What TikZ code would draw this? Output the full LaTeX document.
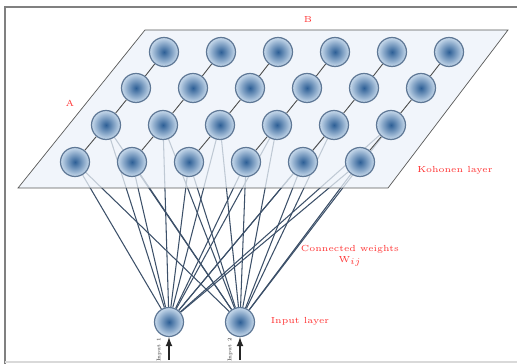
\documentclass[tikz,border=0pt]{standalone}
\usetikzlibrary{arrows.meta,backgrounds}

\definecolor{cellcore}{RGB}{45,95,150}
\definecolor{cellrim}{RGB}{200,218,236}
\definecolor{cellline}{RGB}{95,120,150}
\definecolor{wire}{RGB}{60,80,105}
\definecolor{sheet}{RGB}{236,242,249}

\begin{document}
\begin{tikzpicture}[
  x=0.02cm, y=-0.02cm,
  neuron/.style={
    circle,
    draw=cellline,
    line width=0.7pt,
    minimum size=0.58cm,
    inner sep=0pt,
    inner color=cellcore,
    outer color=cellrim
  },
  plane/.style={
    draw=gray!70!black,
    fill=sheet,
    fill opacity=0.75
  },
  gridline/.style={
    draw=gray!60!black,
    line width=0.5pt
  },
  weight/.style={
    draw=wire,
    line width=0.6pt
  },
  tag/.style={
    text=red!80,
    font=\tiny,
    align=center
  },
  >=latex
]
\useasboundingbox (0,0) rectangle (517,364);
\draw[gray, line width=1.2pt] (5,364) -- (5,7) -- (517,7);
\draw[gray!30, line width=1pt] (5,362) -- (517,362);

% Kohonen grid
\foreach \r/\xs/\ys in {1/164/52, 2/136/88, 3/106/125, 4/75/162}
  \foreach \c in {1,...,6}
    \node[neuron] (n-\r-\c) at ({\xs+57*(\c-1)},\ys) {};

% input layer
\node[neuron] (in1) at (169,322) {};
\node[neuron] (in2) at (240,322) {};
\coordinate (src1) at (169,360);
\coordinate (src2) at (240,360);
\draw[->, thick, gray!30!black] (src1) -- (in1);
\draw[->, thick, gray!30!black] (src2) -- (in2);

\begin{pgfonlayer}{background}
  \foreach \i in {1,2}
    \foreach \c in {1,...,6} {
      \draw[weight] (in\i) -- (n-4-\c);
      \draw[weight] (in\i) -- (n-3-\c);
    }
  \draw[plane] (145,30) -- (508,30) -- (388,188) -- (18,188) -- cycle;
  \foreach \r in {1,...,4}
    \foreach \c [evaluate=\c as \cn using int(\c+1)] in {1,...,5}
      \draw[gridline] (n-\r-\c) -- (n-\r-\cn);
  \foreach \r [evaluate=\r as \rn using int(\r+1)] in {1,2,3}
    \foreach \c in {1,...,6}
      \draw[gridline] (n-\r-\c) -- (n-\rn-\c);
\end{pgfonlayer}

% labels
\node[tag] (lblB) at (308,20) {B};
\node[tag] (lblA) at (70,103) {A};
\node[tag] (lblkoh) at (455,170) {Kohonen layer};
\node[tag] (lblw) at (350,256) {Connected weights\\W$_{ij}$};
\node[tag] (lblin) at (300,321) {Input layer};
\node[tag, text=gray!30!black, rotate=90, scale=0.6] (lblin1) at (159,350) {Input 1};
\node[tag, text=gray!30!black, rotate=90, scale=0.6] (lblin2) at (230,350) {Input 2};
\end{tikzpicture}
\end{document}
